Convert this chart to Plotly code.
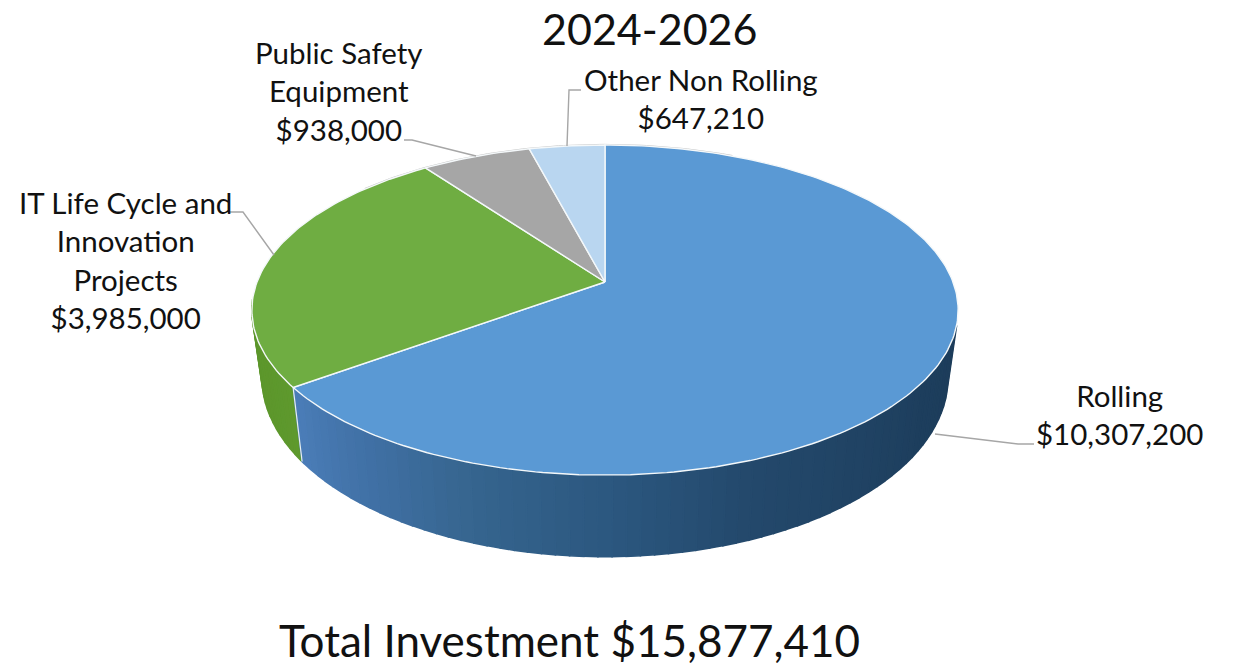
import math
import plotly.graph_objects as go

categories = ["Rolling", "IT Life Cycle and<br>Innovation<br>Projects", "Public Safety<br>Equipment", "Other Non Rolling"]
values = [10307200, 3985000, 938000, 647210]
top_colors = ["#5A99D4", "#6FAD42", "#A6A6A6", "#B9D6F0"]
title_text = "2024-2026"
footer_text = "Total Investment $15,877,410"

# projection of the tilted disc onto the page (pixels)
CX = 605
TOP = dict(y0=282, a=348, b=160.3, k=0.17)
BOT = dict(y0=347, a=338, b=174, k=0.17)

def project(deg, p):
    t = math.radians(deg)
    u, v = math.sin(t), math.cos(t)
    d = 1 + p["k"] * v
    return CX + p["a"] * u / d, p["y0"] - p["b"] * v / d

def hex_rgb(h):
    return [int(h[i:i + 2], 16) for i in (1, 3, 5)]

def ramp(deg, stops):
    for (a, ca), (b, cb) in zip(stops, stops[1:]):
        if a <= deg <= b:
            f = (deg - a) / (b - a)
            A, B = hex_rgb(ca), hex_rgb(cb)
            return "rgb(%d,%d,%d)" % tuple(A[i] + (B[i] - A[i]) * f for i in range(3))
    return stops[-1][1]

blue_side = [(60, "#1B3853"), (125, "#1E3F5E"), (160, "#24496C"), (180, "#2C5880"), (200, "#376690"), (215, "#4070A4"), (240, "#4F83C0")]
green_side = [(230, "#5F9A2E"), (300, "#578F27")]

fig = go.Figure()
total = sum(values)
angles = [0]
for val in values:
    angles.append(angles[-1] + val / total * 360)

def strip(a0, a1, color):
    xs, ys = [], []
    pts = [a0 + (a1 - a0) * i / 3 for i in range(4)]
    for d in pts:
        x, y = project(d, TOP); xs.append(x); ys.append(y)
    for d in reversed(pts):
        x, y = project(d, BOT); xs.append(x); ys.append(y)
    xs.append(xs[0]); ys.append(ys[0])
    fig.add_trace(go.Scatter(x=xs, y=ys, fill="toself", fillcolor=color, mode="lines",
                             line=dict(color=color, width=1.6), hoverinfo="skip", showlegend=False))

# side wall: green first, then blue
a = 264.0
while a > angles[1]:
    nxt = max(a - 2, angles[1])
    strip(nxt, a, ramp((a + nxt) / 2, green_side))
    a = nxt
a = 105.0
while a < angles[1]:
    nxt = min(a + 2, angles[1])
    strip(a, nxt, ramp((a + nxt) / 2, blue_side))
    a = nxt

# division on the wall
wx0, wy0 = project(angles[1], TOP)
wx1, wy1 = project(angles[1], BOT)
fig.add_trace(go.Scatter(x=[wx0, wx1], y=[wy0, wy1], mode="lines", line=dict(color="#E8F0F0", width=1.2),
                         hoverinfo="skip", showlegend=False))

# faint grey rim on the far edge
rim = [project(d, TOP) for d in range(-50, 26)]
fig.add_trace(go.Scatter(x=[p[0] for p in rim], y=[p[1] - 0.6 for p in rim], mode="lines",
                         line=dict(color="#C4C4C4", width=1), hoverinfo="skip", showlegend=False))

# top face
for i, col in enumerate(top_colors):
    n = max(2, int((angles[i + 1] - angles[i]) / 1.0))
    xs, ys = [CX], [TOP["y0"]]
    for j in range(n + 1):
        x, y = project(angles[i] + (angles[i + 1] - angles[i]) * j / n, TOP)
        xs.append(x); ys.append(y)
    xs.append(CX); ys.append(TOP["y0"])
    fig.add_trace(go.Scatter(x=xs, y=ys, fill="toself", fillcolor=col, mode="lines",
                             line=dict(color="#F4F8FA", width=1.4), hoverinfo="skip", showlegend=False))

# leader lines
leaders = [
    ([935, 1018, 1034], [434, 444, 444]),
    ([274, 243, 230], [255, 212, 212]),
    ([476, 412, 404], [156, 140, 140]),
    ([567, 569, 581], [146, 90, 90]),
]
for lx, ly in leaders:
    fig.add_trace(go.Scatter(x=lx, y=ly, mode="lines", line=dict(color="#A6A6A6", width=1.4),
                             hoverinfo="skip", showlegend=False))

def money(v):
    return "${:,}".format(v)

font = "Lato"
label_pos = [(1119, 414), (125, 260), (339, 91), (701, 98)]
annos = []
for cat, val, (lx, ly) in zip(categories, values, label_pos):
    annos.append(dict(x=lx, y=ly, text=cat + "<br>" + money(val), showarrow=False, xref="x", yref="y",
                      xanchor="center", yanchor="middle", align="center",
                      font=dict(family=font, size=29.5, color="#111111")))
annos.append(dict(x=650, y=28, text=title_text, showarrow=False, xanchor="center", yanchor="middle",
                  font=dict(family=font, size=43, color="#111111")))
annos.append(dict(x=569, y=640, text=footer_text, showarrow=False, xanchor="center", yanchor="middle",
                  font=dict(family=font, size=44, color="#111111")))

fig.update_layout(
    width=1233, height=665, margin=dict(l=0, r=0, t=0, b=0), paper_bgcolor="white", plot_bgcolor="white",
    xaxis=dict(range=[0, 1233], visible=False, fixedrange=True),
    yaxis=dict(range=[665, 0], visible=False, fixedrange=True),
    showlegend=False, annotations=annos,
)
fig.write_html("out.html", config=dict(displayModeBar=False),
               post_script="document.body.style.margin='0';document.body.style.overflow='hidden';")
